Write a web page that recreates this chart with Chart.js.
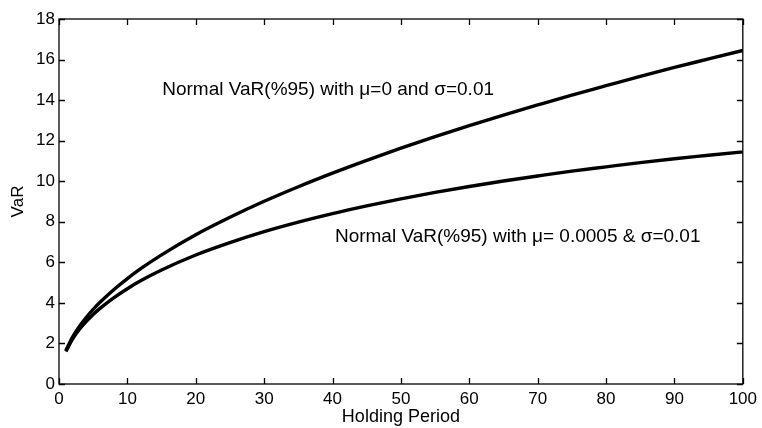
<!DOCTYPE html>
<html>
<head>
<meta charset="utf-8">
<script src="https://cdn.jsdelivr.net/npm/chart.js@4"></script>
<style>
  html, body { margin: 0; padding: 0; background: #fff; }
  #wrap { width: 762px; height: 428px; }
</style>
</head>
<body>
<div id="wrap"><canvas id="var-chart"></canvas></div>
<script>
/* ------------------------------------------
   Data: VaR vs holding period
   ------------------------------------------ */
const holdingDays = [1, 2, 3, 4, 5, 6, 8, 10, 12, 15, 20, 25, 30, 35, 40, 45, 50, 55, 60, 65, 70, 75, 80, 85, 90, 95, 100];
const varZeroMean = [1.65, 2.33, 2.85, 3.29, 3.68, 4.03, 4.65, 5.20, 5.70, 6.37, 7.36, 8.22, 9.01, 9.73, 10.40, 11.03, 11.63, 12.20, 12.74, 13.26, 13.76, 14.25, 14.71, 15.17, 15.61, 16.03, 16.45];
const varWithMean = [1.60, 2.23, 2.70, 3.09, 3.43, 3.73, 4.25, 4.70, 5.10, 5.62, 6.36, 6.97, 7.51, 7.98, 8.40, 8.78, 9.13, 9.45, 9.74, 10.01, 10.26, 10.50, 10.71, 10.92, 11.11, 11.28, 11.45];

const xTicks = [0, 10, 20, 30, 40, 50, 60, 70, 80, 90, 100];
const yTicks = [0, 2, 4, 6, 8, 10, 12, 14, 16, 18];

// curve labels, anchored in data units (left edge, vertical middle)
const curveLabels = [
  { text: 'Normal VaR(%95) with \u03bc=0 and \u03c3=0.01', x: 15.1, y: 14.5 },
  { text: 'Normal VaR(%95) with \u03bc= 0.0005 & \u03c3=0.01', x: 40.35, y: 7.25 }
];

const FONT = "'Liberation Sans', Arial, sans-serif";

const toPoints = (xs, ys) => xs.map((x, i) => ({ x, y: ys[i] }));

/* frame + inward tick marks on all four sides, like the original plot */
const framePlugin = {
  id: 'frame',
  afterDraw(chart) {
    const { ctx, chartArea: a, scales } = chart;
    const len = 6;
    ctx.save();
    ctx.strokeStyle = '#000';
    ctx.lineWidth = 1.3;
    ctx.strokeRect(a.left, a.top, a.right - a.left, a.bottom - a.top);
    ctx.beginPath();
    xTicks.forEach(v => {
      const px = Math.round(scales.x.getPixelForValue(v)) + 0.5;
      ctx.moveTo(px, a.bottom); ctx.lineTo(px, a.bottom - len);
      ctx.moveTo(px, a.top); ctx.lineTo(px, a.top + len);
    });
    yTicks.forEach(v => {
      const py = Math.round(scales.y.getPixelForValue(v)) + 0.5;
      ctx.moveTo(a.left, py); ctx.lineTo(a.left + len, py);
      ctx.moveTo(a.right, py); ctx.lineTo(a.right - len, py);
    });
    ctx.stroke();

    ctx.fillStyle = '#000';
    ctx.font = '19px ' + FONT;
    ctx.textBaseline = 'middle';
    ctx.textAlign = 'left';
    curveLabels.forEach(l => {
      ctx.fillText(l.text, scales.x.getPixelForValue(l.x), scales.y.getPixelForValue(l.y));
    });
    ctx.restore();
  }
};

const lineStyle = {
  borderColor: '#000',
  borderWidth: 3.4,
  pointRadius: 0,
  fill: false,
  cubicInterpolationMode: 'monotone'
};

new Chart(document.getElementById('var-chart'), {
  type: 'line',
  data: {
    datasets: [
      { label: 'mu=0', data: toPoints(holdingDays, varZeroMean), ...lineStyle },
      { label: 'mu=0.0005', data: toPoints(holdingDays, varWithMean), ...lineStyle }
    ]
  },
  options: {
    responsive: true,
    maintainAspectRatio: false,
    animation: false,
    layout: { padding: { top: 19, right: 14, left: 0, bottom: 0 } },
    plugins: {
      legend: { display: false },
      tooltip: { enabled: false }
    },
    scales: {
      x: {
        type: 'linear',
        min: 0,
        max: 100,
        afterFit: s => { s.height = 44; },
        afterBuildTicks: s => { s.ticks = xTicks.map(v => ({ value: v })); },
        grid: { display: false, drawTicks: false },
        border: { display: false },
        ticks: { color: '#000', padding: 5, maxRotation: 0, font: { family: FONT, size: 17 } },
        title: {
          display: true,
          text: 'Holding Period',
          color: '#000',
          padding: 0,
          font: { family: FONT, size: 18 }
        }
      },
      y: {
        min: 0,
        max: 18,
        afterFit: s => { s.width = 59; },
        afterBuildTicks: s => { s.ticks = yTicks.map(v => ({ value: v })); },
        grid: { display: false, drawTicks: false },
        border: { display: false },
        ticks: { color: '#000', padding: 4, font: { family: FONT, size: 17 } },
        title: {
          display: true,
          text: 'VaR',
          color: '#000',
          padding: { top: 8, bottom: 0 },
          font: { family: FONT, size: 17 }
        }
      }
    }
  },
  plugins: [framePlugin]
});
</script>
</body>
</html>
